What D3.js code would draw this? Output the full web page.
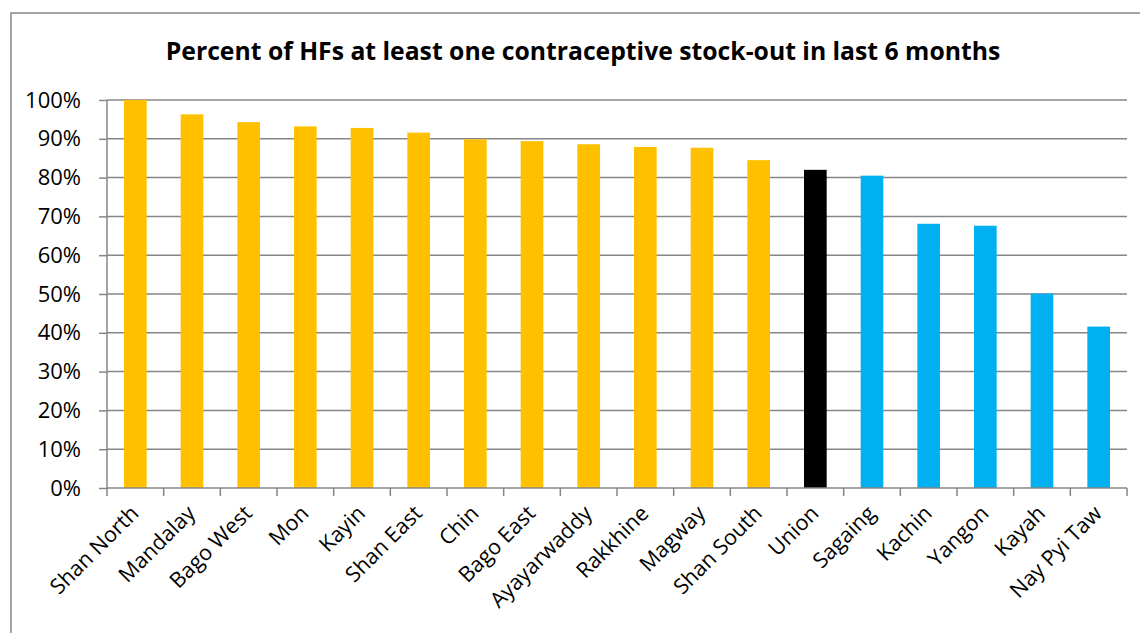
<!DOCTYPE html>
<html><head><meta charset="utf-8">
<script src="https://cdn.jsdelivr.net/npm/d3@7"></script>
<style>body{margin:0;background:#fff}svg{display:block}</style>
</head><body>
<svg id="c" width="1140" height="633"></svg>
<script>
const categories = ["Shan North","Mandalay","Bago West","Mon","Kayin","Shan East","Chin","Bago East","Ayayarwaddy","Rakkhine","Magway","Shan South","Union","Sagaing","Kachin","Yangon","Kayah","Nay Pyi Taw"];
const values = [100,96.3,94.3,93.2,92.8,91.6,89.9,89.4,88.6,87.9,87.7,84.5,82.0,80.5,68.1,67.6,50.1,41.6];
const groups = ["above","above","above","above","above","above","above","above","above","above","above","above","union","below","below","below","below","below"];
const yTicks = [0,10,20,30,40,50,60,70,80,90,100];
const title = "Percent of HFs at least one contraceptive stock-out in last 6 months";

const colors = {above:"#FFC000", union:"#000000", below:"#00B0F0"};
const font = "'Open Sans', 'Noto Sans', sans-serif";
const svg = d3.select("#c");
const L=107, R=1127, T=100, B=488;

svg.append("rect").attr("x",11).attr("y",13).attr("width",1160).attr("height",700)
  .attr("fill","#fff").attr("stroke","#868686").attr("stroke-width",1.5);

const x = d3.scaleBand().domain(categories).range([L,R]).paddingInner(0.6).paddingOuter(0.3);
const y = d3.scaleLinear().domain([0,100]).range([B,T]);

// gridlines
svg.append("g").selectAll("line").data(yTicks.filter(d=>d>0)).join("line")
  .attr("x1",L).attr("x2",R).attr("y1",d=>y(d)).attr("y2",d=>y(d))
  .attr("stroke","#868686").attr("stroke-width",1.5);

// bars
svg.append("g").selectAll("rect").data(categories).join("rect")
  .attr("x",d=>x(d)).attr("width",x.bandwidth())
  .attr("y",(d,i)=>y(values[i])).attr("height",(d,i)=>B-y(values[i]))
  .attr("fill",(d,i)=>colors[groups[i]]);

// y axis
const ya = svg.append("g").attr("transform",`translate(${L},0)`)
  .call(d3.axisLeft(y).tickValues(yTicks).tickFormat(d=>d+"%").tickSize(8).tickPadding(18));
ya.attr("font-size",null).attr("font-family",null);
ya.select(".domain").attr("stroke","#868686").attr("stroke-width",1.5).attr("d",`M0,${B}V${T}`);
ya.selectAll(".tick line").attr("stroke","#868686").attr("stroke-width",1.5);
ya.selectAll("text").attr("font-family",font).attr("font-size",22).attr("fill","#000");

// x axis
const bounds = d3.range(categories.length+1).map(i=>L + i*(R-L)/categories.length);
const xa = svg.append("g");
xa.append("line").attr("x1",L).attr("x2",R).attr("y1",B).attr("y2",B).attr("stroke","#868686").attr("stroke-width",1.5);
xa.selectAll("line.t").data(bounds).join("line").attr("class","t")
  .attr("x1",d=>d).attr("x2",d=>d).attr("y1",B).attr("y2",B+8)
  .attr("stroke","#868686").attr("stroke-width",1.5);
xa.selectAll("text").data(categories).join("text")
  .attr("transform",d=>`translate(${x(d)+x.bandwidth()/2-6},${B+16}) rotate(-45)`)
  .attr("text-anchor","end").attr("dy","0.7em")
  .attr("font-family",font).attr("font-size",21.5).attr("fill","#000").text(d=>d);

// title
const t = svg.append("text").attr("x",583).attr("y",60).attr("text-anchor","middle")
  .attr("font-family",font).attr("font-weight","bold").attr("font-size",22).attr("fill","#000").text(title);
const w = t.node().getComputedTextLength();
t.attr("font-size",22*835/w);
</script>
</body></html>
